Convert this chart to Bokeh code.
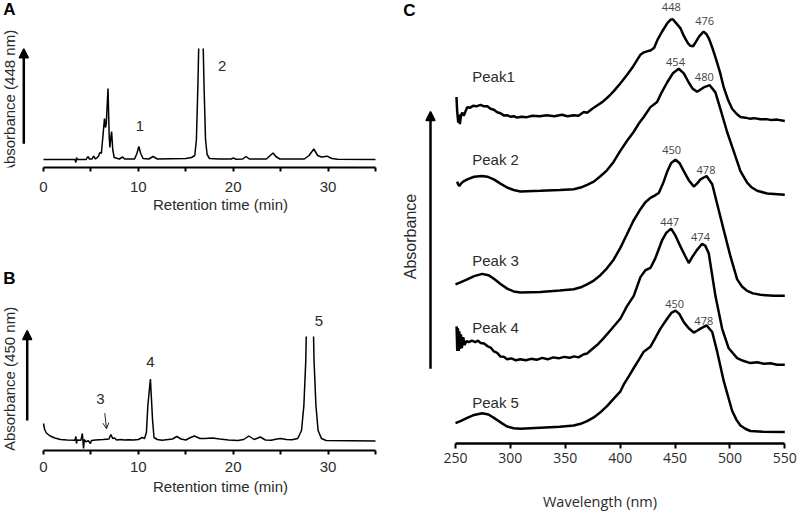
import numpy as np
from bokeh.plotting import figure
from bokeh.layouts import row, column
from bokeh.models import Range1d, Label, Arrow, NormalHead, OpenHead, FixedTicker
from bokeh.embed import file_html
from bokeh.resources import INLINE

NAN = float("nan")

# ---------------- data ----------------
# Panel A: HPLC trace at 448 nm (retention time, min / absorbance, a.u.); peak 2 runs off scale
a_time = [0, 3.3, 3.42, 3.48, 3.56, 4.5, 4.68, 4.85, 5.12, 5.28, 5.48, 5.78, 5.95, 6.1, 6.28, 6.43,
          6.53, 6.62, 6.8, 6.93, 7.0, 7.1, 7.18, 7.3, 7.45, 8.0, 8.35, 8.55, 9.6, 9.85, 10.05, 10.25,
          10.5, 11.1, 11.55, 12.0, 15.0, 15.6, 15.95, 16.12, 16.28, 16.36, NAN, 16.84, 16.92, 17.08,
          17.25, 17.5, 18.5, 19.8, 20.0, 20.3, 21.0, 21.35, 21.7, 23.5, 23.9, 24.2, 24.5, 24.9, 27.5,
          28.0, 28.5, 28.9, 29.3, 29.9, 30.4, 31.0, 35.0]
a_abs = [0, 0, -0.03, 0.02, 0.0, 0.0, 0.03, 0.005, 0.005, 0.035, 0.005, 0.03, 0.07, 0.06, 0.25, 0.41,
         0.32, 0.36, 0.71, 0.22, 0.12, 0.22, 0.28, 0.10, 0.02, 0.005, 0.025, 0.005, 0.005, 0.06, 0.13,
         0.06, 0.01, 0.005, 0.03, 0.005, 0.01, 0.02, 0.04, 0.2, 0.75, 1.11, NAN, 1.11, 0.75, 0.2,
         0.05, 0.01, 0.005, 0.005, 0.015, 0.003, 0.005, 0.03, 0.005, 0.005, 0.04, 0.065, 0.03, 0.005,
         0.005, 0.04, 0.105, 0.04, 0.025, 0.033, 0.01, 0.003, 0.0]

# Panel B: HPLC trace at 450 nm; peak 5 runs off scale
b_time = [0.0, 0.12, 0.3, 0.7, 1.2, 1.8, 2.5, 3.3, 3.42, 3.47, 3.55, 3.95, 4.1, 4.17, 4.22, 4.3, 4.5,
          4.7, 4.95, 5.05, 5.5, 6.3, 6.9, 7.1, 7.3, 7.5, 7.7, 8.2, 8.5, 9.0, 9.5, 10.0, 10.4, 10.65,
          10.85, 11.0, 11.27, 11.5, 11.65, 12.0, 12.5, 13.6, 14.05, 14.5, 15.0, 15.4, 15.9, 16.5, 17.0,
          17.8, 18.6, 19.5, 20.5, 21.1, 21.65, 22.2, 22.85, 23.4, 24.0, 24.6, 25.0, 25.6, 26.2, 26.8,
          27.2, 27.45, 27.65, 27.70, NAN, 28.47, 28.52, 28.72, 28.95, 29.3, 29.8, 35.0]
b_abs = [0.17, 0.11, 0.075, 0.045, 0.025, 0.01, 0.005, 0.003, 0.04, -0.03, 0.005, 0.003, 0.07, -0.02,
         -0.08, 0.01, -0.015, 0.0, -0.03, 0.0, 0.005, 0.01, 0.015, 0.06, 0.02, 0.025, 0.005, 0.01, 0.005,
         0.008, 0.005, 0.01, 0.03, 0.02, 0.08, 0.35, 0.615, 0.20, 0.03, 0.01, 0.003, 0.015, 0.04, 0.015,
         0.005, 0.025, 0.045, 0.02, 0.02, 0.025, 0.015, 0.005, 0.0, 0.01, 0.045, 0.01, 0.035, 0.005,
         0.003, 0.015, 0.02, 0.01, 0.008, 0.02, 0.10, 0.35, 0.80, 1.04, NAN, 1.04, 0.80, 0.35, 0.10,
         0.02, 0.0, -0.005]

# Panel C: absorption spectra (wavelength nm / relative absorbance)
wl_p1 = [250.9, 251.5, 252.5, 253.2, 254, 255, 256, 257.5, 260.7, 263, 266, 269, 272.8, 276, 279, 281.9,
         285, 288, 291, 294, 297, 300, 303, 306, 310, 315, 320, 327, 333, 340, 347, 352, 357.7, 362,
         366.9, 370, 374, 379, 384, 390, 395, 400.3, 406, 412, 418.5, 421, 424.6, 428, 431, 434, 438,
         443, 446, 448, 451, 455, 458, 461.7, 464, 466.5, 469, 472, 476, 478.5, 481, 484, 487, 491,
         494.4, 498, 502, 506, 509.6, 514, 518, 522, 527.8, 533, 538, 543, 550]
ab_p1 = [0.243, 0.103, -0.017, 0.063, -0.032, 0.053, 0.083, 0.053, 0.140, 0.133, 0.153, 0.148, 0.163,
         0.148, 0.148, 0.123, 0.113, 0.088, 0.078, 0.056, 0.058, 0.043, 0.048, 0.033, 0.043, 0.038,
         0.053, 0.048, 0.058, 0.048, 0.063, 0.048, 0.058, 0.053, 0.090, 0.083, 0.118, 0.156, 0.193,
         0.253, 0.313, 0.383, 0.463, 0.556, 0.673, 0.693, 0.706, 0.718, 0.743, 0.823, 0.903, 0.993,
         1.028, 1.033, 0.993, 0.940, 0.863, 0.790, 0.763, 0.758, 0.803, 0.858, 0.906, 0.883, 0.833,
         0.743, 0.640, 0.493, 0.340, 0.223, 0.123, 0.073, 0.040, 0.033, 0.023, 0.028, 0.016, 0.018,
         0.008, 0.013, 0.0]

wl_p2 = [251.5, 252.5, 253.5, 255, 257, 260.7, 267, 274.3, 279, 284.9, 291, 297, 303, 309.2, 327.4,
         345, 357.7, 364, 369.9, 376, 382, 388, 394, 400, 406, 412.4, 417, 421.5, 427.6, 433.7, 438,
         442.8, 448, 453.4, 458, 462.5, 466, 470.1, 476.1, 481.6, 486.8, 491.3, 497.4, 503.5, 509.6,
         515.7, 520, 524.8, 533.9, 550]
ab_p2 = [0.133, 0.103, 0.088, 0.113, 0.133, 0.156, 0.183, 0.190, 0.183, 0.156, 0.113, 0.073, 0.048,
         0.033, 0.040, 0.048, 0.056, 0.073, 0.100, 0.133, 0.188, 0.248, 0.333, 0.443, 0.543, 0.640,
         0.723, 0.790, 0.890, 0.943, 1.043, 1.140, 1.233, 1.280, 1.233, 1.140, 1.078, 1.046, 1.090,
         1.113, 1.040, 0.873, 0.640, 0.440, 0.240, 0.123, 0.073, 0.040, 0.013, 0.0]

wl_p3 = [250, 255, 260.7, 267, 274.3, 280, 285, 291, 297.1, 303, 309.2, 327.4, 345, 357.7, 365, 369.9,
         376, 382, 388, 394.2, 400.3, 406, 412, 418.5, 423, 427.6, 431, 435.2, 439, 442.8, 446.5,
         450.4, 454, 458, 462.5, 467.1, 470, 473.2, 478.7, 483.9, 488.4, 494.4, 500.5, 506.6, 511,
         515.7, 521, 527.8, 540, 550]
ab_p3 = [0.117, 0.140, 0.167, 0.200, 0.223, 0.210, 0.173, 0.120, 0.073, 0.045, 0.033, 0.040, 0.053,
         0.067, 0.090, 0.117, 0.155, 0.210, 0.280, 0.370, 0.490, 0.620, 0.760, 0.880, 0.950, 0.995,
         1.015, 1.045, 1.140, 1.260, 1.350, 1.383, 1.350, 1.267, 1.175, 1.110, 1.140, 1.183, 1.217,
         1.133, 0.933, 0.667, 0.400, 0.167, 0.095, 0.050, 0.025, 0.010, 0.0, 0.0]

wl_p4 = [251, 251.6, 252.2, 252.9, 253.5, 254.2, 255, 255.8, 257, 258.3, 260, 262, 265, 268, 270.5, 273,
         276, 279, 282, 285, 288, 291, 294, 297, 301, 305, 309, 314, 319, 324, 329, 334, 339, 344,
         349, 354, 358, 362, 366.9, 370, 373, 379, 385, 391.2, 400.3, 406, 412.4, 418.5, 423, 427.6,
         432, 438.3, 442, 446.4, 450, 455, 459, 462.5, 466, 470.1, 474.5, 477.5, 480.7, 486.8, 492.9,
         498.9, 506.6, 512, 518.7, 525, 531, 537, 543, 550]
ab_p4 = [0.390, 0.140, 0.370, 0.140, 0.340, 0.160, 0.310, 0.170, 0.280, 0.200, 0.240, 0.230, 0.245,
         0.230, 0.245, 0.220, 0.215, 0.190, 0.175, 0.135, 0.120, 0.083, 0.080, 0.055, 0.065, 0.045,
         0.055, 0.045, 0.060, 0.050, 0.070, 0.055, 0.075, 0.065, 0.080, 0.070, 0.085, 0.075, 0.107,
         0.115, 0.145, 0.200, 0.270, 0.350, 0.470, 0.590, 0.700, 0.890, 0.960, 0.983, 1.080, 1.267,
         1.340, 1.383, 1.320, 1.200, 1.110, 1.033, 1.100, 1.167, 1.227, 1.210, 1.133, 0.700, 0.367,
         0.167, 0.067, 0.040, 0.017, 0.025, 0.010, 0.015, 0.0, 0.0]

wl_p5 = [250, 255, 260.7, 267, 274.3, 280, 285, 291, 297, 303, 309.2, 327.4, 345, 357.7, 364, 369.9,
         376, 382, 388, 394.2, 400.3, 403.3, 408, 412.4, 417, 421.5, 427.6, 432, 436.7, 442.8, 447,
         450.4, 454, 458, 462.5, 467.1, 470, 473.2, 478.7, 483.9, 488.4, 494.4, 502, 506, 509.6, 514,
         518.7, 530, 550]
ab_p5 = [0.090, 0.113, 0.143, 0.173, 0.190, 0.178, 0.143, 0.098, 0.056, 0.038, 0.033, 0.043, 0.053,
         0.066, 0.083, 0.110, 0.148, 0.200, 0.263, 0.338, 0.413, 0.483, 0.568, 0.650, 0.733, 0.816,
         0.866, 0.953, 1.050, 1.150, 1.213, 1.233, 1.198, 1.116, 1.053, 1.010, 1.028, 1.050, 1.083,
         1.016, 0.816, 0.516, 0.216, 0.123, 0.066, 0.033, 0.010, 0.003, 0.0]

spec_names = ["Peak1", "Peak 2", "Peak 3", "Peak 4", "Peak 5"]
spec_wl = [wl_p1, wl_p2, wl_p3, wl_p4, wl_p5]
spec_ab = [ab_p1, ab_p2, ab_p3, ab_p4, ab_p5]
spec_peaks = [["448", "476"], ["454", "480"], ["450", "478"], ["447", "474"], ["450", "478"]]
chrom_peak_labels = ["1", "2", "3", "4", "5"]

# ---------------- layout / style ----------------
stack_offset = [3.277, 2.527, 1.50, 0.80, 0.117]
ARIAL = "Liberation Sans"
SANS2 = "Open Sans"
TXT = "#2b2b2b"
STRIP_W = 36


def make_fig(w, h, xr, yr, left, bottom):
    p = figure(width=w, height=h, x_range=xr, y_range=yr, output_backend="svg",
               toolbar_location=None, y_axis_location=None, title=None,
               min_border_left=left, min_border_right=0, min_border_top=0,
               min_border_bottom=bottom)
    p.xgrid.visible = False
    p.ygrid.visible = False
    p.outline_line_color = None
    p.background_fill_color = "white"
    p.border_fill_color = "white"
    return p


def make_strip(h):
    s = figure(width=STRIP_W, height=h, x_range=Range1d(0, 1), y_range=Range1d(0, 1),
               output_backend="svg", toolbar_location=None, x_axis_location=None,
               y_axis_location=None, title=None, min_border=0)
    s.xgrid.visible = False
    s.ygrid.visible = False
    s.outline_line_color = None
    s.background_fill_color = "white"
    s.border_fill_color = "white"
    return s


def lab(p, x, y, text, size, font=ARIAL, color=TXT, angle=0.0, style="normal", align="center"):
    p.add_layout(Label(x=x, y=y, x_units="canvas", y_units="canvas", text=text,
                       text_font=font, text_font_size=size, text_color=color,
                       text_font_style=style, text_align=align, text_baseline="middle",
                       angle=angle))


def big_arrow(p, x, y0, y1, lw=2.5, size=9):
    p.add_layout(Arrow(x_start=x, y_start=y0, x_end=x, y_end=y1,
                       start_units="canvas", end_units="canvas",
                       line_width=lw, line_color="black",
                       end=NormalHead(size=size, fill_color="black", line_color="black", line_width=1.5)))


def style_chrom_axis(p, label_standoff, title_standoff):
    ax = p.xaxis[0]
    ax.bounds = (0, 35)
    ax.ticker = FixedTicker(ticks=[0, 5, 10, 15, 20, 25, 30, 35])
    ax.major_label_overrides = {5: "", 15: "", 25: "", 35: ""}
    ax.minor_tick_line_color = None
    ax.axis_line_width = 2
    ax.major_tick_line_width = 2
    ax.major_tick_out = 4
    ax.major_tick_in = 0
    ax.major_label_standoff = label_standoff
    ax.major_label_text_font = ARIAL
    ax.major_label_text_font_size = "15px"
    ax.major_label_text_color = TXT
    ax.axis_label = "Retention time (min)"
    ax.axis_label_text_font = ARIAL
    ax.axis_label_text_font_size = "15px"
    ax.axis_label_text_font_style = "normal"
    ax.axis_label_text_color = TXT
    ax.axis_label_standoff = title_standoff


# chromatogram x scale: t=0 at 43 px of the panel, 9.486 px/min; frame starts at 40 px
T_RANGE = (-3 / 9.486, 35 + 25 / 9.486)
DX = STRIP_W

# ---- Panel A ----
sA = make_strip(230)
lab(sA, 9, 9, "A", "17px", style="bold", color="black")
lab(sA, 9, 101.5, "Absorbance (448 nm)", "15px", angle=np.pi / 2)
big_arrow(sA, 23.3, 143.3, 48.3)

pA = make_fig(400 - STRIP_W, 230, Range1d(*T_RANGE), Range1d(-0.08, 1.59), 4, 63)
pA.line(np.asarray(a_time, float), np.asarray(a_abs, float), line_color="black", line_width=1.5)
style_chrom_axis(pA, 10, 1)
lab(pA, 139.3 - DX, 125, chrom_peak_labels[0], "15px")
lab(pA, 221.7 - DX, 65, chrom_peak_labels[1], "15px")

# ---- Panel B ----
sB = make_strip(283)
lab(sB, 9, 47.5, "B", "17px", style="bold", color="black")
lab(sB, 9, 148.5, "Absorbance (450 nm)", "15px", angle=np.pi / 2)
big_arrow(sB, 26.7, 190, 100)

pB = make_fig(400 - STRIP_W, 283, Range1d(*T_RANGE), Range1d(-0.10, 2.10), 4, 63)
pB.line(np.asarray(b_time, float), np.asarray(b_abs, float), line_color="black", line_width=1.5)
style_chrom_axis(pB, 7, 3)
lab(pB, 100 - DX, 168.3, chrom_peak_labels[2], "15px")
pB.add_layout(Arrow(x_start=104.3 - DX, y_start=182.7, x_end=106 - DX, y_end=198.3,
                    start_units="canvas", end_units="canvas", line_width=1, line_color="#222",
                    end=OpenHead(size=6, line_width=1, line_color="#222")))
lab(pB, 150 - DX, 131.7, chrom_peak_labels[3], "15px")
lab(pB, 318.3 - DX, 90.7, chrom_peak_labels[4], "15px")

# ---- Panel C ----  (250 nm at 55 px, 1.0977 px/nm)
pC = make_fig(399, 513, Range1d(199.9, 563.4), Range1d(0, 4.5), 0, 63)
for wl, ab, off in zip(spec_wl, spec_ab, stack_offset):
    pC.line(wl, [v + off for v in ab], line_color="black", line_width=2.5)
axc = pC.xaxis[0]
axc.bounds = (250, 550)
axc.ticker = FixedTicker(ticks=[250, 300, 350, 400, 450, 500, 550])
axc.minor_tick_line_color = None
axc.axis_line_width = 2.5
axc.major_tick_line_width = 2
axc.major_tick_out = 5
axc.major_tick_in = 0
axc.major_label_standoff = 4
axc.major_label_text_font = SANS2
axc.major_label_text_font_size = "14px"
axc.major_label_text_color = TXT
axc.axis_label = "Wavelength (nm)"
axc.axis_label_text_font = SANS2
axc.axis_label_text_font_size = "14.5px"
axc.axis_label_text_font_style = "normal"
axc.axis_label_text_color = TXT
axc.axis_label_standoff = 26

lab(pC, 9, 10, "C", "17px", style="bold", color="black")
lab(pC, 10, 236, "Absorbance", "16px", angle=np.pi / 2)
big_arrow(pC, 30, 368.3, 111)

name_pos = [(71.7, 76), (71.7, 159.3), (71.7, 260), (71.7, 326.7), (71.7, 401.7)]
for name, (x, y) in zip(spec_names, name_pos):
    lab(pC, x, y, name, "15px", align="left")

num_pos = [[(270.8, 6), (304.2, 20)], [(275, 61), (303.8, 76)],
           [(271.2, 149.3), (305.5, 169.3)], [(269.2, 221), (300, 236.7)],
           [(274.2, 303.3), (303.3, 320)]]
for labels, poss in zip(spec_peaks, num_pos):
    for t, (x, y) in zip(labels, poss):
        lab(pC, x, y, t, "11px", font=SANS2, color="#444444")

layout = row(column(row(sA, pA), row(sB, pB)), pC)
open("out.html", "w").write(file_html(layout, INLINE))
